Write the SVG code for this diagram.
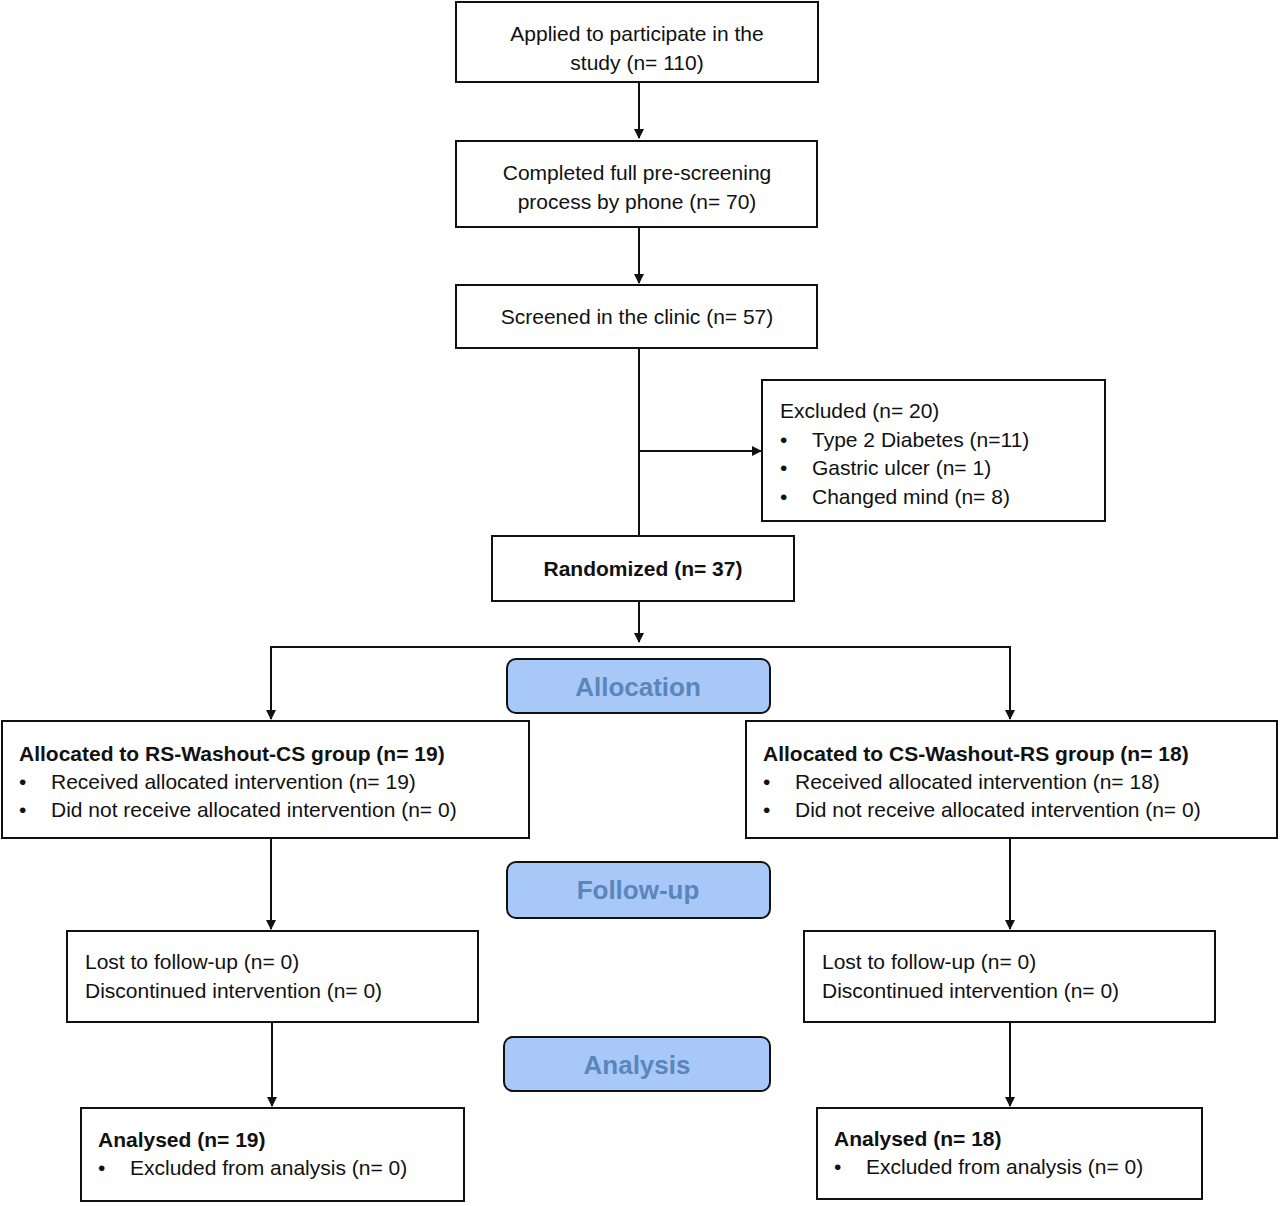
<svg xmlns="http://www.w3.org/2000/svg" width="1280" height="1206" viewBox="0 0 1280 1206">
<style>
.b{fill:#fff;stroke:#111;stroke-width:2}
.p{fill:#a8c8f8;stroke:#111;stroke-width:2}
text{font-family:"Liberation Sans",Arial,sans-serif;font-size:21px;fill:#111}
.c{text-anchor:middle}
.bo{font-weight:bold}
.ph{font-weight:bold;font-size:26px;fill:#5a86bb;text-anchor:middle}
.l{fill:none;stroke:#111;stroke-width:2}
</style>
<defs><marker id="a" markerWidth="10" markerHeight="10" refX="9" refY="5" orient="auto" markerUnits="userSpaceOnUse"><path d="M0,0L10,5L0,10z" fill="#111"/></marker></defs>
<g id="connectors">
<path class="l" d="M639,82V138" marker-end="url(#a)"/>
<path class="l" d="M639,227V283" marker-end="url(#a)"/>
<path class="l" d="M639,348V536"/>
<path class="l" d="M639,451H761" marker-end="url(#a)"/>
<path class="l" d="M639,601V642" marker-end="url(#a)"/>
<path class="l" d="M271,718V647H1010V718"/>
<path class="l" d="M271,700V719" marker-end="url(#a)"/>
<path class="l" d="M1010,700V719" marker-end="url(#a)"/>
<path class="l" d="M271,838V929" marker-end="url(#a)"/>
<path class="l" d="M1010,838V929" marker-end="url(#a)"/>
<path class="l" d="M272,1022V1106" marker-end="url(#a)"/>
<path class="l" d="M1010,1022V1106" marker-end="url(#a)"/>
</g>
<g id="n1"><rect class="b" x="456" y="2" width="362" height="80"/><text class="c" x="637" y="41">Applied to participate in the</text><text class="c" x="637" y="70">study (n= 110)</text></g>
<g id="n2"><rect class="b" x="456" y="141" width="361" height="86"/><text class="c" x="637" y="180">Completed full pre-screening</text><text class="c" x="637" y="209">process by phone (n= 70)</text></g>
<g id="n3"><rect class="b" x="456" y="285" width="361" height="63"/><text class="c" x="637" y="324">Screened in the clinic (n= 57)</text></g>
<g id="n4"><rect class="b" x="762" y="380" width="343" height="141"/><text x="780" y="418">Excluded (n= 20)</text><text x="780" y="447">•</text><text x="812" y="447">Type 2 Diabetes (n=11)</text><text x="780" y="475">•</text><text x="812" y="475">Gastric ulcer (n= 1)</text><text x="780" y="504">•</text><text x="812" y="504">Changed mind (n= 8)</text></g>
<g id="n5"><rect class="b" x="492" y="536" width="302" height="65"/><text class="c bo" x="643" y="576">Randomized (n= 37)</text></g>
<g id="p1"><rect class="p" x="507" y="659" width="263" height="54" rx="9"/><text class="ph" x="638" y="696">Allocation</text></g>
<g id="n6"><rect class="b" x="2" y="721" width="527" height="117"/><text class="bo" x="19" y="761">Allocated to RS-Washout-CS group (n= 19)</text><text x="19" y="789">•</text><text x="51" y="789">Received allocated intervention (n= 19)</text><text x="19" y="817">•</text><text x="51" y="817">Did not receive allocated intervention (n= 0)</text></g>
<g id="n7"><rect class="b" x="746" y="721" width="531" height="117"/><text class="bo" x="763" y="761">Allocated to CS-Washout-RS group (n= 18)</text><text x="763" y="789">•</text><text x="795" y="789">Received allocated intervention (n= 18)</text><text x="763" y="817">•</text><text x="795" y="817">Did not receive allocated intervention (n= 0)</text></g>
<g id="p2"><rect class="p" x="507" y="862" width="263" height="56" rx="9"/><text class="ph" x="638" y="899">Follow-up</text></g>
<g id="n8"><rect class="b" x="67" y="931" width="411" height="91"/><text x="85" y="969">Lost to follow-up (n= 0)</text><text x="85" y="998">Discontinued intervention (n= 0)</text></g>
<g id="n9"><rect class="b" x="804" y="931" width="411" height="91"/><text x="822" y="969">Lost to follow-up (n= 0)</text><text x="822" y="998">Discontinued intervention (n= 0)</text></g>
<g id="p3"><rect class="p" x="504" y="1037" width="266" height="54" rx="9"/><text class="ph" x="637" y="1074">Analysis</text></g>
<g id="n10"><rect class="b" x="81" y="1108" width="383" height="93"/><text class="bo" x="98" y="1147">Analysed (n= 19)</text><text x="98" y="1175">•</text><text x="130" y="1175">Excluded from analysis (n= 0)</text></g>
<g id="n11"><rect class="b" x="817" y="1108" width="385" height="91"/><text class="bo" x="834" y="1146">Analysed (n= 18)</text><text x="834" y="1174">•</text><text x="866" y="1174">Excluded from analysis (n= 0)</text></g>
</svg>
